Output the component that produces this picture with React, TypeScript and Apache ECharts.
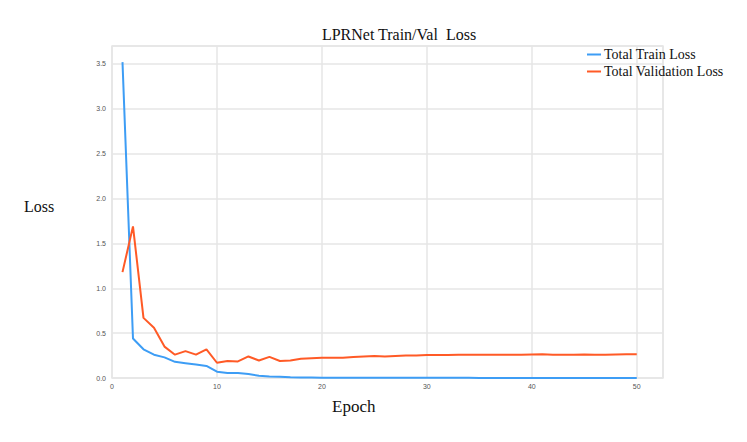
import React, { useEffect, useRef } from "react";
import * as echarts from "echarts";

const epochs = Array.from({ length: 50 }, (_, i) => i + 1);
const trainLoss = [
  3.52, 0.44, 0.32, 0.26, 0.23, 0.18, 0.165, 0.15, 0.135, 0.07,
  0.055, 0.055, 0.045, 0.025, 0.018, 0.015, 0.008, 0.006, 0.005, 0.004,
  0.004, 0.003, 0.003, 0.003, 0.003, 0.002, 0.002, 0.002, 0.002, 0.002,
  0.002, 0.002, 0.002, 0.002, 0.001, 0.001, 0.001, 0.001, 0.001, 0.001,
  0.001, 0.001, 0.001, 0.001, 0.001, 0.001, 0.001, 0.001, 0.001, 0.001,
];
const valLoss = [
  1.18, 1.69, 0.67, 0.56, 0.35, 0.26, 0.30, 0.26, 0.32, 0.17,
  0.19, 0.185, 0.24, 0.195, 0.235, 0.19, 0.195, 0.215, 0.22, 0.225,
  0.225, 0.225, 0.235, 0.24, 0.245, 0.24, 0.245, 0.25, 0.25, 0.255,
  0.255, 0.255, 0.258, 0.258, 0.258, 0.26, 0.26, 0.258, 0.258, 0.262,
  0.264, 0.26, 0.258, 0.26, 0.262, 0.26, 0.26, 0.262, 0.264, 0.264,
];
const xTicks = [0, 10, 20, 30, 40, 50];

export default function App() {
  const ref = useRef<HTMLDivElement>(null);
  useEffect(() => {
    const chart = echarts.init(ref.current!, null, { renderer: "svg" });
    const serif = "'Liberation Serif', 'Times New Roman', serif";
    chart.setOption({
      animation: false,
      backgroundColor: "#ffffff",
      title: {
        text: "LPRNet Train/Val  Loss",
        left: 394,
        top: 21,
        textAlign: "center",
        textStyle: { fontFamily: serif, fontSize: 16, fontWeight: "normal", color: "#111" },
      },
      legend: {
        orient: "vertical",
        left: 587,
        top: 46,
        padding: 0,
        itemWidth: 14,
        itemHeight: 2,
        itemGap: 0,
        icon: "rect",
        textStyle: { fontFamily: serif, fontSize: 14, color: "#111", lineHeight: 17, padding: [0, 0, 0, -2] },
        data: ["Total Train Loss", "Total Validation Loss"],
      },
      grid: { left: 112, right: 84, top: 46, bottom: 64, show: true, borderColor: "#e6e6e6", borderWidth: 1.5 },
      xAxis: {
        type: "value",
        min: 0,
        max: 52.5,
        interval: 10,
        axisLine: { show: false },
        axisTick: { show: false },
        axisLabel: {
          fontSize: 7,
          color: "#555",
          margin: 5,
          showMaxLabel: false,
          formatter: (v: number) => (xTicks.includes(v) ? String(v) : ""),
        },
        splitLine: { show: true, lineStyle: { color: "#e6e6e6", width: 1.5 } },
      },
      yAxis: {
        type: "value",
        min: 0,
        max: 3.7,
        interval: 0.5,
        axisLine: { show: false },
        axisTick: { show: false },
        axisLabel: {
          fontSize: 7,
          color: "#555",
          margin: 6,
          showMaxLabel: false,
          formatter: (v: number) => v.toFixed(1),
        },
        splitLine: { show: true, lineStyle: { color: "#e6e6e6", width: 1.5 } },
      },
      graphic: [
        {
          type: "text",
          left: 24,
          top: 198,
          style: { text: "Loss", font: `16px ${serif}`, fill: "#111" },
        },
        {
          type: "text",
          left: 332,
          top: 398,
          style: { text: "Epoch", font: `17px ${serif}`, fill: "#111" },
        },
      ],
      series: [
        {
          name: "Total Train Loss",
          type: "line",
          data: epochs.map((e, i) => [e, trainLoss[i]]),
          showSymbol: false,
          symbol: "none",
          itemStyle: { color: "#3d9df5" },
          lineStyle: { color: "#3d9df5", width: 2 },
        },
        {
          name: "Total Validation Loss",
          type: "line",
          data: epochs.map((e, i) => [e, valLoss[i]]),
          showSymbol: false,
          symbol: "none",
          itemStyle: { color: "#ff5a26" },
          lineStyle: { color: "#ff5a26", width: 2 },
        },
      ],
    });
    return () => chart.dispose();
  }, []);
  return (
    <div
      ref={ref}
      style={{ position: "fixed", left: 0, top: 0, width: 747, height: 442 }}
    />
  );
}
